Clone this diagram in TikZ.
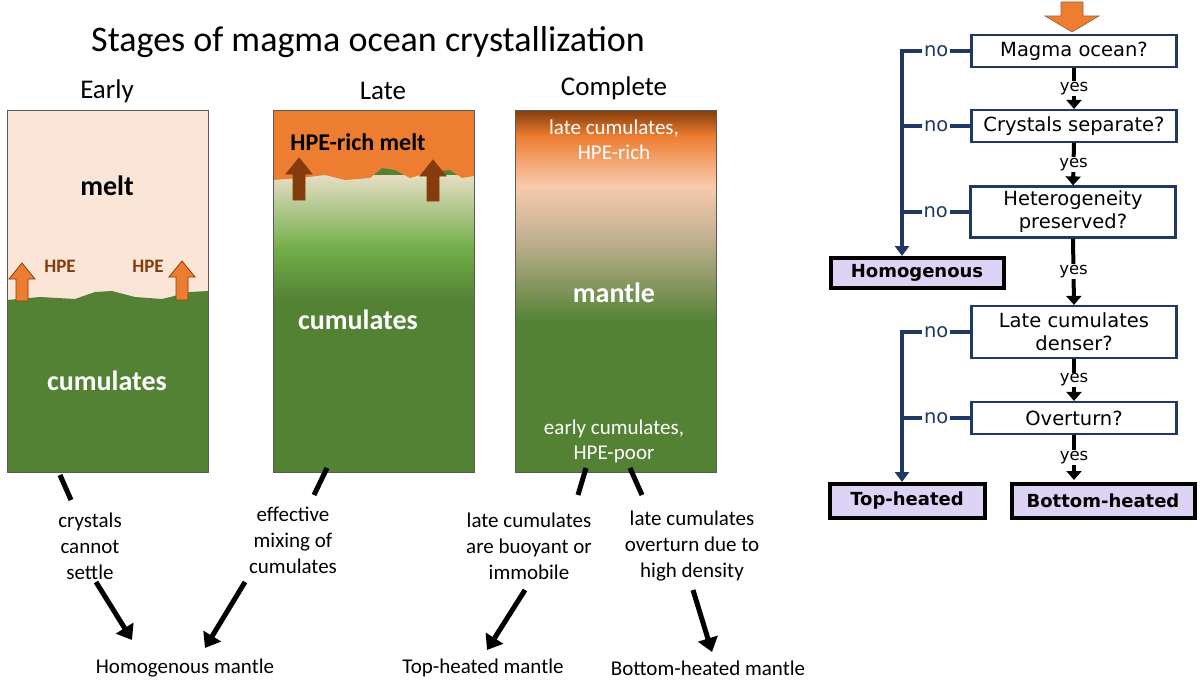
\documentclass[tikz,border=0pt]{standalone}
\usepackage{fontspec}
\setmainfont{Carlito}
\newfontfamily\fc{DejaVu Sans}
\usetikzlibrary{arrows.meta}
\definecolor{melt}{HTML}{FBE5D6}
\definecolor{dgreen}{HTML}{548235}
\definecolor{lgreen}{HTML}{70AD47}
\definecolor{orng}{HTML}{ED7D31}
\definecolor{brwn}{HTML}{843C0C}
\definecolor{peach}{HTML}{F8CBAD}
\definecolor{tan}{HTML}{C0B090}
\definecolor{beige}{HTML}{E6DEC4}
\definecolor{navy}{HTML}{1F3864}
\definecolor{lav}{HTML}{DCD3F5}
\newcommand{\uparrowshape}[5]{% x, ybottom, ytop, fill, draw
  \filldraw[fill=#4,draw=#5,line width=0.8pt] (#1-6,#2) -- (#1+6,#2) -- (#1+6,#3+16) -- (#1+13,#3+16) -- (#1,#3) -- (#1-13,#3+16) -- (#1-6,#3+16) -- cycle;}
\begin{document}
\begin{tikzpicture}[x=1pt,y=-1pt,
  lbl/.style={font=\fontsize{21}{26}\selectfont,align=center,inner sep=1pt},
  fq/.style={draw=navy,line width=2.2pt,fill=white,minimum width=205pt,font=\fc\fontsize{19.5}{23}\selectfont,align=center,inner sep=2pt},
  ft/.style={draw=black,line width=4pt,fill=lav,font=\fc\bfseries\fontsize{18}{22}\selectfont,inner sep=2pt},
  blk/.style={line width=5pt,black},
  blka/.style={line width=5pt,black,-{Triangle[length=14pt,width=20pt]}},
  yes/.style={line width=4pt,black,-{Triangle[length=9pt,width=15pt]}},
  nol/.style={line width=4pt,navy},
  noa/.style={line width=4pt,navy,-{Triangle[length=10pt,width=14pt]}},
  yt/.style={font=\fc\fontsize{16.5}{18}\selectfont,fill=white,inner sep=1pt},
  nt/.style={font=\fc\fontsize{19.5}{22}\selectfont,fill=white,inner sep=2pt}]
\useasboundingbox (0,0) rectangle (1200,693);
\fill[white] (0,0) rectangle (1200,693);
\node (title) at (368,42) {\fontsize{36}{40}\selectfont Stages of magma ocean crystallization};
\node at (107,91) {\fontsize{27}{30}\selectfont Early};
\node at (383,91) {\fontsize{27}{30}\selectfont Late};
\node at (614,88) {\fontsize{27}{30}\selectfont Complete};
% Early panel
\fill[melt] (7,110) rectangle (208,472);
\fill[dgreen] (7,300) -- (40,297) -- (75,299) -- (95,292) -- (112,291) -- (135,297) -- (162,299) -- (190,292) -- (208,291) -- (208,472) -- (7,472) -- cycle;
\draw[gray!70!black,line width=0.6pt] (7,110) rectangle (208,472);
\uparrowshape{22}{301}{263}{orng}{brwn}
\uparrowshape{182}{300}{261}{orng}{brwn}
\node[text=brwn,font=\bfseries\fontsize{19}{22}\selectfont] at (60,266) {HPE};
\node[text=brwn,font=\bfseries\fontsize{19}{22}\selectfont] at (148,266) {HPE};
\node[font=\bfseries\fontsize{28}{32}\selectfont] at (107,186) {melt};
\node[text=white,font=\bfseries\fontsize{28}{32}\selectfont] at (107,381) {cumulates};
% Late panel
\fill[dgreen] (273,110) rectangle (474,472);
\shade[top color=beige,bottom color=lgreen] (273,175) rectangle (474,250);
\shade[top color=lgreen,bottom color=dgreen] (273,250) rectangle (474,300);
\fill[orng] (273,110) -- (474,110) -- (474,176) -- (462,178) -- (450,170) -- (430,172) -- (410,178) -- (395,170) -- (382,168) -- (370,178) -- (345,180) -- (325,175) -- (300,178) -- (273,180) -- cycle;
\draw[gray!70!black,line width=0.6pt] (273,110) rectangle (474,472);
\uparrowshape{299}{200}{158}{brwn}{brwn}
\uparrowshape{433}{201}{160}{brwn}{brwn}
\node[font=\bfseries\fontsize{24}{28}\selectfont] at (358,142) {HPE-rich melt};
\node[text=white,font=\bfseries\fontsize{28}{32}\selectfont] at (358,320) {cumulates};
% Complete panel
\fill[dgreen] (515,110) rectangle (716,472);
\shade[top color=brwn,bottom color=orng] (515,110) rectangle (716,136);
\shade[top color=orng,bottom color=peach] (515,136) rectangle (716,186);
\shade[top color=peach,bottom color=tan] (515,186) rectangle (716,240);
\shade[top color=tan,bottom color=dgreen] (515,240) rectangle (716,322);
\draw[gray!70!black,line width=0.6pt] (515,110) rectangle (716,472);
\node[text=white,font=\fontsize{21}{25}\selectfont,align=center] at (614,140) {late cumulates,\\HPE-rich};
\node[text=white,font=\bfseries\fontsize{28}{32}\selectfont] at (614,293) {mantle};
\node[text=white,font=\fontsize{21}{25}\selectfont,align=center] at (614,441) {early cumulates,\\HPE-poor};
% bottom texts
\node[lbl] (t1) at (90,546) {crystals\\cannot\\settle};
\node[lbl] (t2) at (293,540) {effective\\mixing of\\cumulates};
\node[lbl] (t3) at (529,546) {late cumulates\\are buoyant or\\immobile};
\node[lbl] (t4) at (692,546) {late cumulates\\overturn due to\\high density};
\node[lbl] (b1) at (185,668) {Homogenous mantle};
\node[lbl] (b2) at (483,668) {Top-heated mantle};
\node[lbl] (b3) at (708,668) {Bottom-heated mantle};
\coordinate (e1) at (60,475); \coordinate (e2) at (71,500);
\coordinate (l1) at (327,468); \coordinate (l2) at (314,495);
\coordinate (c1) at (586,468); \coordinate (c2) at (578,495);
\coordinate (c3) at (630,468); \coordinate (c4) at (642,495);
\draw[blk] (e1) -- (e2);
\draw[blk] (l1) -- (l2);
\draw[blk] (c1) -- (c2);
\draw[blk] (c3) -- (c4);
\coordinate (a1) at (96,582); \coordinate (a2) at (132,640);
\coordinate (a3) at (245,582); \coordinate (a4) at (205,648);
\coordinate (a5) at (525,590); \coordinate (a6) at (487,650);
\coordinate (a7) at (693,590); \coordinate (a8) at (712,652);
\draw[blka] (a1) -- (a2);
\draw[blka] (a3) -- (a4);
\draw[blka] (a5) -- (a6);
\draw[blka] (a7) -- (a8);
% flowchart
\filldraw[fill=orng,draw=brwn!80,line width=0.6pt] (1061,2) -- (1083,2) -- (1083,16) -- (1099,16) -- (1072,32) -- (1045,16) -- (1061,16) -- cycle;
\node[fq,minimum height=32pt] (q1) at (1074,51) {Magma ocean?};
\node[fq,minimum height=32pt] (q2) at (1074,126) {Crystals separate?};
\node[fq,minimum height=51pt] (q3) at (1073,212) {Heterogeneity\\preserved?};
\node[fq,minimum height=52pt] (q4) at (1074,332) {Late cumulates\\denser?};
\node[fq,minimum height=32pt] (q5) at (1074,418) {Overturn?};
\node[ft,minimum width=173pt,minimum height=30pt] (h) at (917,273) {Homogenous};
\node[ft,minimum width=155pt,minimum height=34pt] (th) at (907,501) {Top-heated};
\node[ft,minimum width=183pt,minimum height=34pt] (bh) at (1103,501) {Bottom-heated};
\draw[yes] (q1.south) -- node[yt]{yes} (q2.north);
\draw[yes] (q2.south) -- node[yt]{yes} (q3.north);
\draw[yes] (q3.south) -- node[yt]{yes} (q4.north);
\draw[yes] (q4.south) -- node[yt]{yes} (q5.north);
\draw[yes] (q5.south) -- node[yt]{yes} (1074,480);
\coordinate (v1) at (902,51);
\coordinate (v2) at (902,332);
\draw[noa] (q1.west) -- node[nt]{no} (v1) -- (h.north -| v1);
\draw[nol] (q2.west) -- node[nt]{no} (q2.west -| v1);
\draw[nol] (q3.west) -- node[nt]{no} (q3.west -| v1);
\draw[noa] (q4.west) -- node[nt]{no} (v2) -- (th.north -| v2);
\draw[nol] (q5.west) -- node[nt]{no} (q5.west -| v2);
\end{tikzpicture}
\end{document}
